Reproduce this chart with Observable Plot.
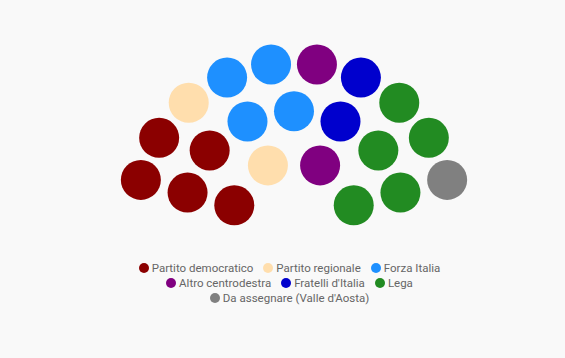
<!DOCTYPE html>
<html>
<head>
<meta charset="utf-8">
<script src="https://cdn.jsdelivr.net/npm/d3@7"></script>
<script src="https://cdn.jsdelivr.net/npm/@observablehq/plot@0.6"></script>
<style>
  html, body { margin: 0; padding: 0; background: #f9f9f9; }
  #chart svg { display: block; background: #f9f9f9; }
  #legend {
    font-family: Roboto, sans-serif; font-size: 11.5px; color: #666;
    text-align: center; line-height: 15px; padding-left: 14px; margin-top: 3px;
  }
  .row { white-space: nowrap; }
  .item { display: inline-block; margin: 0 5px; }
  .sw { display: inline-block; width: 10px; height: 10px; border-radius: 50%; margin-right: 3px; vertical-align: -1px; }
</style>
</head>
<body>
<div id="chart"></div>
<div id="legend"></div>
<script>
// Parties, seats and colours
const parties = ["Partito democratico", "Partito regionale", "Forza Italia", "Altro centrodestra", "Fratelli d'Italia", "Lega", "Da assegnare (Valle d'Aosta)"];
const seats = [5, 2, 4, 2, 2, 5, 1];
const colors = ["#8b0000", "#ffdead", "#1e90ff", "#800080", "#0000cd", "#228b22", "#808080"];
// Legend rows
const legendRows = [[0, 1, 2], [3, 4, 5], [6]];

// Hemicycle layout: rows of seats from inner to outer
const rowSeats = [4, 7, 10];
const rowRadii = [0.39, 0.695, 1];
const edge = 15.2 * Math.PI / 180;

const positions = [];
rowSeats.forEach((n, r) => {
  for (let i = 0; i < n; i++) {
    const t = i / (n - 1);
    positions.push({t, row: r, radius: rowRadii[r]});
  }
});
// Seats are filled left to right; at equal angles the inner row comes first
positions.sort((a, b) => (a.t - b.t) || (a.row - b.row));

const partyOfSeat = parties.flatMap((p, k) => d3.range(seats[k]).map(() => p));
const data = positions.map((s, i) => {
  const ang = Math.PI - edge - s.t * (Math.PI - 2 * edge);
  return {party: partyOfSeat[i], x: s.radius * Math.cos(ang), y: s.radius * Math.sin(ang)};
});

const R = 158.7, cx = 293.5, cy = 221;
const chart = Plot.plot({
  width: 565,
  height: 258,
  style: {background: "#f9f9f9"},
  x: {axis: null, domain: [-1, 1], range: [cx - R, cx + R]},
  y: {axis: null, domain: [0, 1], range: [cy, cy - R]},
  color: {domain: parties, range: colors},
  marks: [
    Plot.dot(data, {x: "x", y: "y", r: 20, fill: "party"})
  ]
});
document.getElementById("chart").append(chart);

const legend = d3.select("#legend");
legendRows.forEach(row => {
  const div = legend.append("div").attr("class", "row");
  row.forEach(k => {
    const item = div.append("span").attr("class", "item");
    item.append("span").attr("class", "sw").style("background", colors[k]);
    item.append("span").text(parties[k]);
  });
});
</script>
</body>
</html>
